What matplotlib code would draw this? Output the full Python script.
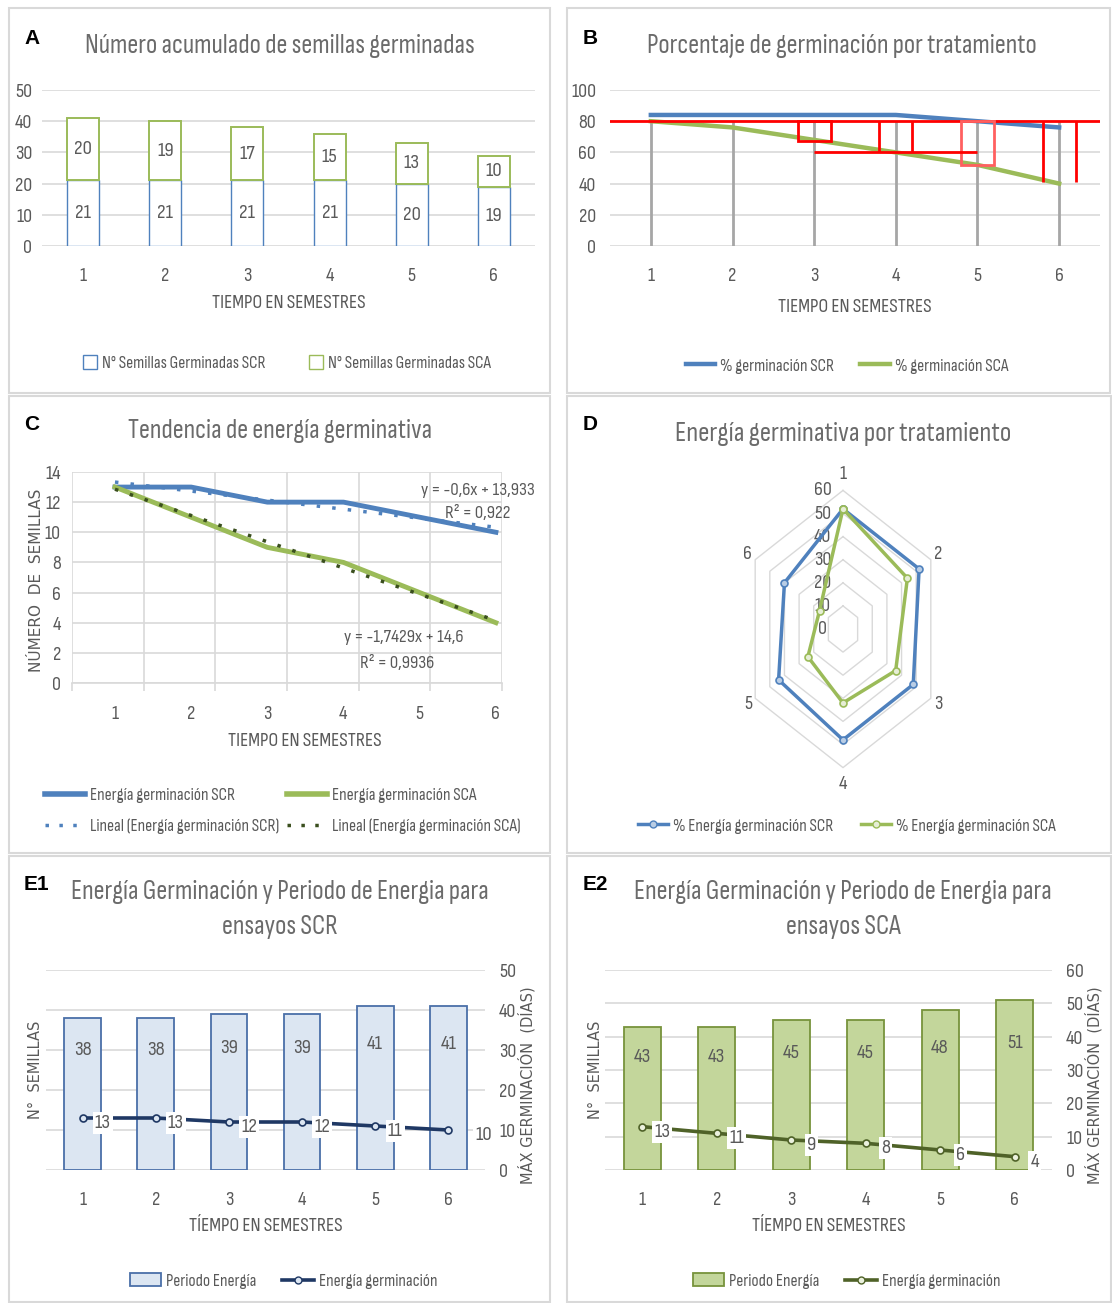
import numpy as np
import matplotlib
matplotlib.use('Agg')
import matplotlib.pyplot as plt
from matplotlib.patches import Patch, Rectangle
from matplotlib.lines import Line2D
from matplotlib import font_manager

# ---- data ----
semestres = [1, 2, 3, 4, 5, 6]
germ_scr = [21, 21, 21, 21, 20, 19]
germ_sca = [20, 19, 17, 15, 13, 10]
pct_scr = [84, 84, 84, 84, 80, 76]
pct_sca = [80, 76, 68, 60, 52, 40]
energia_scr = [13, 13, 12, 12, 11, 10]
energia_sca = [13, 11, 9, 8, 6, 4]
pct_energia_scr = [52, 52, 48, 48, 44, 40]
pct_energia_sca = [52, 44, 36, 32, 24, 16]
periodo_scr = [38, 38, 39, 39, 41, 41]
periodo_sca = [43, 43, 45, 45, 48, 51]

# hand-drawn red marks on panel B (data coords)
umbral = 80
red_boxes = [(2.8, 3.2, 67, 80, 'red'), (4.8, 5.2, 52, 80, '#ff6060')]
red_vlines = [(3.8, 60, 80), (4.2, 60, 80), (5.8, 41, 80), (6.2, 41, 80)]
red_hline = (60, 3, 5)

# ---- fonts / colours ----
names = {f.name for f in font_manager.fontManager.ttflist}
NARROW = next((n for n in ['Sofia Sans Condensed', 'Barlow Condensed', 'Liberation Sans']
               if n in names), 'DejaVu Sans')
plt.rcParams['font.family'] = [NARROW, 'DejaVu Sans']
WIDE = ['DejaVu Sans']
BOLD = ['Liberation Sans', 'DejaVu Sans']

BLUE = '#4f81bd'
GREEN = '#9bbb59'
GRID = '#d9d9d9'
TXT = '#595959'
TITLE = '#6b6b6b'
FS_TITLE = 19.5
FS_TICK = 14.5
FS_LAB = 14.3
FS_LEG = 12.5

W, H = 1112, 1303
fig = plt.figure(figsize=(W / 100, H / 100), dpi=100)


def box(x0, y0, x1, y1):
    return fig.add_axes([x0 / W, 1 - y1 / H, (x1 - x0) / W, (y1 - y0) / H])


def ftext(x, y, s, **kw):
    kw.setdefault('ha', 'center')
    kw.setdefault('va', 'center')
    return fig.text(x / W, 1 - y / H, s, **kw)


def legend(handles, labels, x, y, **kw):
    fig.legend(handles, labels, loc='center', bbox_to_anchor=(x / W, 1 - y / H),
               frameon=False, fontsize=FS_LEG, labelcolor=TXT, handletextpad=0.3,
               borderaxespad=0, **kw)


def clean(ax, ymax, step, pad_y=7):
    for s in ax.spines.values():
        s.set_visible(False)
    ax.set_ylim(0, ymax)
    ax.set_yticks(np.arange(0, ymax + 1, step))
    ax.grid(axis='y', color=GRID, lw=1.2)
    ax.set_axisbelow(True)
    ax.tick_params(length=0, labelsize=FS_TICK, labelcolor=TXT)
    ax.tick_params(axis='y', pad=pad_y)
    ax.tick_params(axis='x', pad=15)
    ax.set_xticks(semestres)


# panel frames
for x0, y0, x1, y1 in [(9, 8, 550, 393), (567, 8, 1110, 393), (9, 396, 550, 853),
                       (567, 396, 1111, 853), (9, 856, 550, 1302), (567, 856, 1111, 1302)]:
    fig.patches.append(Rectangle((x0 / W, 1 - y1 / H), (x1 - x0) / W, (y1 - y0) / H,
                                 transform=fig.transFigure, fill=False,
                                 ec='#d9d9d9', lw=1.5))

# ---------------- A ----------------
axA = box(42, 90, 535, 246)
axA.bar(semestres, germ_scr, width=0.39, color='white', edgecolor=BLUE, lw=1)
axA.bar(semestres, germ_sca, bottom=germ_scr, width=0.39, color='white', edgecolor=GREEN, lw=1.4)
for x, a, b in zip(semestres, germ_scr, germ_sca):
    axA.text(x, a / 2, str(a), ha='center', va='center', fontsize=FS_TICK + 0.5, color=TXT)
    axA.text(x, a + b / 2, str(b), ha='center', va='center', fontsize=FS_TICK + 0.5, color=TXT)
axA.set_xlim(0.5, 6.5)
clean(axA, 50, 10)
ftext(32, 38, 'A', fontsize=15, weight='bold', family=BOLD)
ftext(280, 46, 'Número acumulado de semillas germinadas', fontsize=FS_TITLE, color=TITLE)
ftext(289, 303, 'TIEMPO EN SEMESTRES', fontsize=FS_LAB, color=TXT)
legend([Patch(fc='white', ec=BLUE), Patch(fc='white', ec=GREEN)],
       ['N° Semillas Germinadas SCR', 'N° Semillas Germinadas SCA'], 287, 363,
       ncol=2, columnspacing=2.5, handlelength=0.8, handleheight=0.9)

# ---------------- B ----------------
axB = box(610, 90, 1100, 246)
axB.vlines(semestres, 0, umbral, color='#a6a6a6', lw=2, zorder=1)
axB.plot(semestres, pct_scr, color=BLUE, lw=3.2, zorder=3)
axB.plot(semestres, pct_sca, color=GREEN, lw=3.2, zorder=3)
axB.axhline(umbral, color='red', lw=2, zorder=4)
for x0, x1, y0, y1, c in red_boxes:
    axB.add_patch(Rectangle((x0, y0), x1 - x0, y1 - y0, fill=False, ec=c, lw=2, zorder=4))
axB.vlines([v[0] for v in red_vlines], [v[1] for v in red_vlines],
           [v[2] for v in red_vlines], color='red', lw=2, zorder=4)
axB.hlines(red_hline[0], red_hline[1], red_hline[2], color='red', lw=2, zorder=4)
axB.set_xlim(0.5, 6.5)
clean(axB, 100, 20, pad_y=10)
ftext(590, 38, 'B', fontsize=15, weight='bold', family=BOLD)
ftext(842, 46, 'Porcentaje de germinación por tratamiento', fontsize=FS_TITLE, color=TITLE)
ftext(855, 307, 'TIEMPO EN SEMESTRES', fontsize=FS_LAB, color=TXT)
legend([Line2D([], [], color=BLUE, lw=3.2), Line2D([], [], color=GREEN, lw=3.2)],
       ['% germinación SCR', '% germinación SCA'], 847, 366, ncol=2,
       columnspacing=1.5, handlelength=1.7)

# ---------------- C ----------------
axC = box(72, 472, 502, 683)
xlo, xhi = 0.436, 6.08
axC.plot(semestres, energia_scr, color=BLUE, lw=3.5, zorder=3)
axC.plot(semestres, energia_sca, color=GREEN, lw=3.5, zorder=3)
xs = np.array(semestres, dtype=float)
fits = []
for y, c in [(energia_scr, '#4f81bd'), (energia_sca, '#3a4f1e')]:
    m, b = np.polyfit(xs, y, 1)
    pred = m * xs + b
    r2 = 1 - np.sum((np.array(y) - pred) ** 2) / np.sum((np.array(y) - np.mean(y)) ** 2)
    axC.plot(xs, pred, color=c, lw=2.5, ls=(0, (1, 3.5)), zorder=4)
    fits.append((m, b, r2))


def num(v, d):
    return f'{v:.{d}f}'.rstrip('0').rstrip('.').replace('.', ',')


(m1, b1, r21), (m2, b2, r22) = fits
FS_EQ = 13.5
axC.text(5.76, 12.8, f'y = {num(m1, 4)}x + {num(b1, 3)}', ha='center', va='center', fontsize=FS_EQ, color=TXT)
axC.text(5.76, 11.3, f'R² = {num(r21, 4)}', ha='center', va='center', fontsize=FS_EQ, color=TXT)
axC.text(4.79, 3.0, f'y = {num(m2, 4)}x + {num(b2, 3)}', ha='center', va='center', fontsize=FS_EQ, color=TXT)
axC.text(4.70, 1.35, f'R² = {num(r22, 4)}', ha='center', va='center', fontsize=FS_EQ, color=TXT)
axC.set_xlim(xlo, xhi)
axC.set_ylim(0, 14)
axC.set_yticks(np.arange(0, 15, 2))
axC.set_xticks(semestres)
axC.set_xticks(np.linspace(xlo, xhi, 7), minor=True)
for s in ['top', 'right', 'left']:
    axC.spines[s].set_visible(False)
axC.spines['bottom'].set_color(GRID)
axC.spines['bottom'].set_linewidth(1.2)
axC.grid(axis='y', color=GRID, lw=1.2)
axC.grid(axis='x', which='minor', color=GRID, lw=1.2)
axC.set_axisbelow(True)
axC.tick_params(which='major', length=0, labelsize=FS_TICK, labelcolor=TXT)
axC.tick_params(axis='x', which='major', pad=16)
axC.tick_params(axis='y', pad=8)
axC.tick_params(which='minor', length=6, color=GRID, width=1.2)
ftext(32, 424, 'C', fontsize=15, weight='bold', family=BOLD)
ftext(280, 431, 'Tendencia de energía germinativa', fontsize=FS_TITLE, color=TITLE)
ftext(305, 741, 'TIEMPO EN SEMESTRES', fontsize=FS_LAB, color=TXT)
ftext(37, 580, 'NÚMERO  DE  SEMILLAS', rotation=90, fontsize=11, color=TXT, family=WIDE)
legend([Line2D([], [], color=BLUE, lw=4), Line2D([], [], color='#4f81bd', lw=2.5, ls=(0, (1, 3))),
        Line2D([], [], color=GREEN, lw=4), Line2D([], [], color='#3a4f1e', lw=2.5, ls=(0, (1, 3)))],
       ['Energía germinación SCR', 'Lineal (Energía germinación SCR)',
        'Energía germinación SCA', 'Lineal (Energía germinación SCA)'],
       283, 811, ncol=2, columnspacing=0.4, handlelength=2.3, labelspacing=0.9)

# ---------------- D (radar) ----------------
cx, cy = 843, 629
sx, sy = 1.69, 2.31
axD = box(cx - 150, cy - 170, cx + 150, cy + 170)
axD.set_xlim(-150 / sx, 150 / sx)
axD.set_ylim(-170 / sy, 170 / sy)
axD.axis('off')
ang = np.arange(6) * np.pi / 3
ang_c = np.append(ang, 0)
for r in range(10, 61, 10):
    axD.plot(r * np.sin(ang_c), r * np.cos(ang_c), color=GRID, lw=1, zorder=1)
for r in range(0, 61, 10):
    axD.text(-12, r, str(r), ha='center', va='center', fontsize=FS_TICK, color=TXT, zorder=2)
for i, a in enumerate(ang):
    rr = 67 if i in (0, 3) else 65
    axD.text(rr * np.sin(a), rr * np.cos(a), str(semestres[i]), ha='center', va='center',
             fontsize=FS_TICK, color=TXT)
for vals, c, mf in [(pct_energia_scr, BLUE, '#b9cde5'), (pct_energia_sca, GREEN, '#e6eed5')]:
    v = np.append(vals, vals[0])
    axD.plot(v * np.sin(ang_c), v * np.cos(ang_c), color=c, lw=2.5, marker='o', ms=5,
             mfc=mf, mec=c, mew=1.2, zorder=3)
ftext(590, 425, 'D', fontsize=15, weight='bold', family=BOLD)
ftext(843, 434, 'Energía germinativa por tratamiento', fontsize=FS_TITLE + 0.5, color=TITLE)
legend([Line2D([], [], color=BLUE, lw=2.5, marker='o', ms=5, mfc='#b9cde5', mec=BLUE),
        Line2D([], [], color=GREEN, lw=2.5, marker='o', ms=5, mfc='#e6eed5', mec=GREEN)],
       ['% Energía germinación SCR', '% Energía germinación SCA'], 847, 826, ncol=2,
       columnspacing=1.6, handlelength=1.7)


# ---------------- E1 / E2 ----------------
def panel_e(x0, x1, tag, tcx, periodo, energia, ymax, face, edge, lcol, mface, serie, lab_off):
    ax = box(x0, 970, x1, 1170)
    ax.bar(semestres, periodo, width=0.5, color=face, edgecolor=edge, lw=1.3, zorder=2)
    for x, h in zip(semestres, periodo):
        ax.text(x, h / 2 + lab_off, str(h), ha='center', va='center', fontsize=FS_TICK + 0.5,
                color=TXT, zorder=3)
    ax.plot(semestres, energia, color=lcol, lw=2.6, marker='o', ms=5, mfc=mface, mec=lcol,
            mew=1.2, zorder=4)
    for i, (x, v) in enumerate(zip(semestres, energia)):
        dx = 35 if (i == 5 and tag == 'E1') else 20
        ax.annotate(str(v), (x, v), xytext=(dx, -5), textcoords='offset pixels',
                    ha='center', va='center', fontsize=FS_TICK + 0.5, color=TXT, zorder=5,
                    bbox=dict(fc='white', ec='none', pad=1.5))
    ax.set_xlim(0.5, 6.5)
    clean(ax, ymax, 10, pad_y=10)
    ax.yaxis.tick_right()
    fx0 = 36 if tag == 'E1' else 595
    ftext(fx0, 885, tag, fontsize=15, weight='bold', family=BOLD)
    ftext(tcx, 892, 'Energía Germinación y Periodo de Energia para', fontsize=FS_TITLE, color=TITLE)
    ftext(tcx, 927, f'ensayos {serie}', fontsize=FS_TITLE, color=TITLE)
    ftext((x0 + x1) / 2, 1226, 'TÍEMPO EN SEMESTRES', fontsize=FS_LAB, color=TXT)
    ftext(x0 - 10, 1070, 'N°  SEMILLAS', rotation=90, fontsize=10.5, color=TXT, family=WIDE)
    ftext(x1 + 42, 1085, 'MÁX GERMINACIÓN  (DÍAS)', rotation=90, fontsize=10.5, color=TXT, family=WIDE)
    legend([Patch(fc=face, ec=edge, lw=1.3),
            Line2D([], [], color=lcol, lw=2.6, marker='o', ms=5, mfc=mface, mec=lcol)],
           ['Periodo Energía', 'Energía germinación'], (x0 + x1) / 2 + 18, 1281, ncol=2,
           columnspacing=1.5, handlelength=1.8)


panel_e(46, 485, 'E1', 280, periodo_scr, energia_scr, 50, '#dce6f2', '#4a6fa8', '#1f3864', '#dce6f2', 'SCR', 11)
panel_e(605, 1052, 'E2', 843, periodo_sca, energia_sca, 60, '#c3d69b', '#77933c', '#4f6228', '#ebf1de', 'SCA', 12.5)

fig.savefig('out.png', dpi=100)
